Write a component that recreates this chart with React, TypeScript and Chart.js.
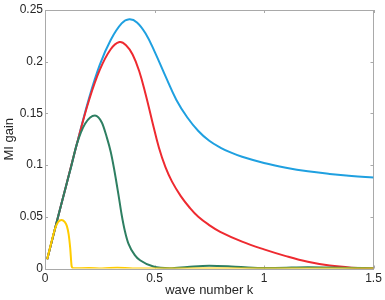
import React, { useEffect, useRef } from "react";
import { Chart, registerables } from "chart.js";

Chart.register(...registerables);

// Wave number k (x) and MI gain (y) for each curve
const blueK = [0.01, 0.05, 0.1, 0.15, 0.2, 0.25, 0.3, 0.35, 0.385, 0.42, 0.46, 0.5, 0.55, 0.6, 0.65, 0.7, 0.75, 0.8, 0.85, 0.9, 1.0, 1.1, 1.2, 1.3, 1.4, 1.5];
const blueGain = [0.009, 0.042, 0.083, 0.124, 0.164, 0.197, 0.221, 0.237, 0.241, 0.238, 0.227, 0.21, 0.186, 0.163, 0.146, 0.133, 0.1235, 0.117, 0.112, 0.108, 0.102, 0.0975, 0.094, 0.0915, 0.0895, 0.088];

const redK = [0.01, 0.05, 0.1, 0.15, 0.2, 0.25, 0.3, 0.34, 0.37, 0.4, 0.43, 0.46, 0.49, 0.52, 0.55, 0.58, 0.62, 0.66, 0.7, 0.75, 0.8, 0.9, 1.0, 1.1, 1.2, 1.3, 1.4, 1.5];
const redGain = [0.009, 0.042, 0.083, 0.124, 0.162, 0.192, 0.212, 0.219, 0.216, 0.207, 0.191, 0.168, 0.142, 0.117, 0.098, 0.084, 0.07, 0.059, 0.05, 0.042, 0.0355, 0.026, 0.0185, 0.012, 0.0065, 0.0028, 0.0008, 0.0];

const greenK = [0.01, 0.05, 0.1, 0.12, 0.145, 0.183, 0.228, 0.26, 0.282, 0.3, 0.315, 0.335, 0.35, 0.365, 0.381, 0.41, 0.434, 0.495, 0.57, 0.65, 0.75, 0.85, 0.95, 1.05, 1.2, 1.35, 1.5];
const greenGain = [0.009, 0.042, 0.083, 0.099, 0.12, 0.14, 0.148, 0.141, 0.127, 0.113, 0.097, 0.072, 0.052, 0.036, 0.024, 0.013, 0.008, 0.002, 0.0003, 0.0015, 0.0027, 0.002, 0.0008, 0.0005, 0.0012, 0.0008, 0.0003];

const yellowK = [0.01, 0.03, 0.045, 0.06, 0.076, 0.09, 0.1, 0.108, 0.115, 0.122, 0.13, 0.2, 0.26, 0.33, 0.4, 0.6, 0.8, 1.0, 1.2, 1.5];
const yellowGain = [0.009, 0.026, 0.038, 0.045, 0.047, 0.045, 0.041, 0.033, 0.02, 0.002, 0.0002, 0.0005, 0.0001, 0.0007, 0.0001, 0.0001, 0.0001, 0.0001, 0.0001, 0.0001];

const xTickValues = [0, 0.5, 1, 1.5];
const yTickValues = [0, 0.05, 0.1, 0.15, 0.2, 0.25];

const xTitle = "wave number k";
const yTitle = "MI gain";

const FONT = "'Liberation Sans', Arial, Helvetica, sans-serif";

const pts = (ks: number[], vs: number[]) => ks.map((k, i) => ({ x: k, y: vs[i] }));

const framePlugin = {
  id: "matlabFrame",
  beforeDatasetsDraw(chart: any) {
    const { ctx, chartArea, scales } = chart;
    const { left, right, top, bottom } = chartArea;
    ctx.save();
    ctx.strokeStyle = "#a9a9a9";
    ctx.lineWidth = 1;
    ctx.strokeRect(Math.round(left) + 0.5, Math.round(top) + 0.5, Math.round(right - left) - 1, Math.round(bottom - top));
    const tl = 3;
    ctx.beginPath();
    xTickValues.forEach((v) => {
      const x = Math.round(scales.x.getPixelForValue(v)) + 0.5;
      ctx.moveTo(x, bottom);
      ctx.lineTo(x, bottom - tl);
      ctx.moveTo(x, top);
      ctx.lineTo(x, top + tl);
    });
    yTickValues.forEach((v) => {
      const y = Math.round(scales.y.getPixelForValue(v)) + 0.5;
      ctx.moveTo(left, y);
      ctx.lineTo(left + tl, y);
      ctx.moveTo(right, y);
      ctx.lineTo(right - tl, y);
    });
    ctx.stroke();
    ctx.restore();
  },
};

export default function App() {
  const ref = useRef<HTMLCanvasElement | null>(null);

  useEffect(() => {
    if (!ref.current) return;
    const line = (label: string, data: any[], color: string, smooth: boolean) => ({
      label,
      data,
      borderColor: color,
      backgroundColor: color,
      borderWidth: 2,
      pointRadius: 0,
      tension: smooth ? 0.4 : 0,
      cubicInterpolationMode: smooth ? ("default" as const) : ("monotone" as const),
      fill: false,
    });
    const chart = new Chart(ref.current, {
      type: "line",
      data: {
        datasets: [
          line("yellow", pts(yellowK, yellowGain), "#ffcc00", false),
          line("green", pts(greenK, greenGain), "#2e7f62", false),
          line("red", pts(redK, redGain), "#ee2a30", true),
          line("blue", pts(blueK, blueGain), "#1fa0e0", true),
        ],
      },
      options: {
        animation: false,
        responsive: false,
        events: [],
        layout: { padding: { top: 10, right: 11.5, left: 0, bottom: 0 } },
        plugins: { legend: { display: false }, tooltip: { enabled: false } },
        scales: {
          x: {
            type: "linear",
            min: 0,
            max: 1.5,
            grid: { display: false, drawTicks: false },
            border: { display: false },
            afterBuildTicks: (s: any) => {
              s.ticks = xTickValues.map((v) => ({ value: v }));
            },
            afterFit: (s: any) => {
              s.height = 31.5;
            },
            ticks: {
              padding: 3,
              maxRotation: 0,
              autoSkip: false,
              color: "#262626",
              font: { family: FONT, size: 12 },
              callback: (v: any) => String(v),
            },
            title: {
              display: true,
              text: xTitle,
              color: "#262626",
              font: { family: FONT, size: 13 },
              padding: { top: 0, bottom: 2 },
            },
          },
          y: {
            type: "linear",
            min: 0,
            max: 0.25,
            grid: { display: false, drawTicks: false },
            border: { display: false },
            afterBuildTicks: (s: any) => {
              s.ticks = yTickValues.map((v) => ({ value: v }));
            },
            afterFit: (s: any) => {
              s.width = 45;
            },
            ticks: {
              padding: 2,
              autoSkip: false,
              color: "#262626",
              font: { family: FONT, size: 12 },
              callback: (v: any) => String(v),
            },
            title: {
              display: true,
              text: yTitle,
              color: "#262626",
              font: { family: FONT, size: 13 },
              padding: { top: 2, bottom: 0 },
            },
          },
        },
      },
      plugins: [framePlugin],
    });
    return () => chart.destroy();
  }, []);

  return (
    <div style={{ position: "absolute", left: 0, top: 0, width: 385, height: 300, background: "#fff" }}>
      <canvas ref={ref} width={385} height={300} style={{ width: 385, height: 300 }} />
    </div>
  );
}
